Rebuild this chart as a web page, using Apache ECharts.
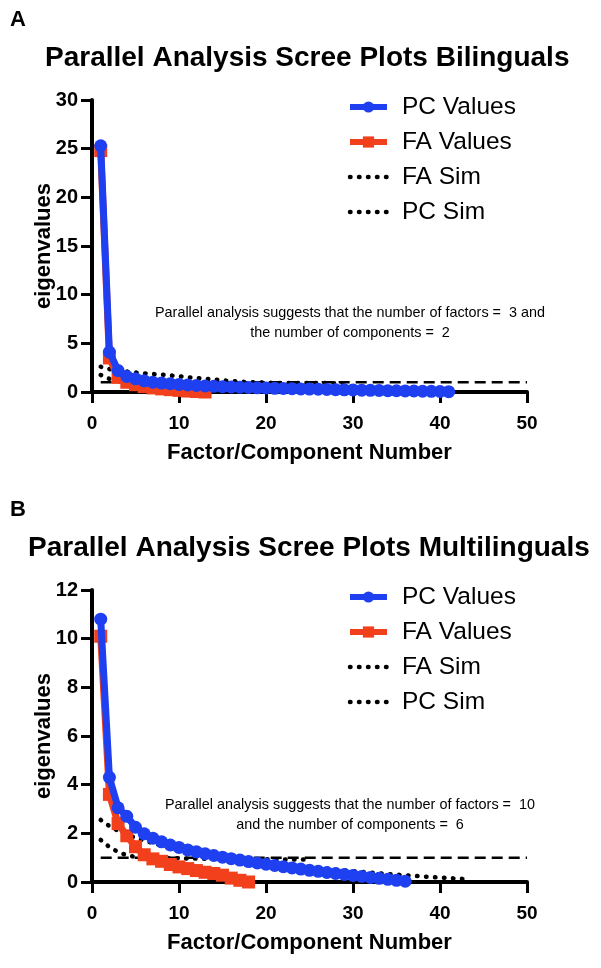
<!DOCTYPE html>
<html><head><meta charset="utf-8">
<script src="https://cdn.jsdelivr.net/npm/echarts@6/dist/echarts.min.js"></script>
<style>html,body{margin:0;padding:0;background:#fff}#c{width:601px;height:968px}</style>
</head><body><div id="c"></div>
<script>
const panelLabels = ['A', 'B'];
const titles = ['Parallel Analysis Scree Plots Bilinguals', 'Parallel Analysis Scree Plots Multilinguals'];
const seriesNames = ['PC Values', 'FA Values', 'FA Sim', 'PC Sim'];
const xAxisName = 'Factor/Component Number';
const yAxisName = 'eigenvalues';
const xTickLabels = [0, 10, 20, 30, 40, 50];
const yTickLabelsA = [0, 5, 10, 15, 20, 25, 30];
const yTickLabelsB = [0, 2, 4, 6, 8, 10, 12];
const notesA = ['Parallel analysis suggests that the number of factors =  3 and', 'the number of components =  2'];
const notesB = ['Parallel analysis suggests that the number of factors =  10', 'and the number of components =  6'];

// Panel A (Bilinguals)
const pcA = [25.3, 4.1, 2.2, 1.6, 1.35, 1.15, 1.0, 0.92, 0.85, 0.78, 0.72, 0.67, 0.62, 0.58, 0.55, 0.52, 0.49, 0.46, 0.43, 0.41,
  0.38, 0.36, 0.34, 0.32, 0.30, 0.28, 0.26, 0.24, 0.22, 0.21, 0.19, 0.17, 0.16, 0.14, 0.13, 0.11, 0.10, 0.08, 0.07, 0.05, 0.03];
const faA = [24.8, 3.5, 1.5, 1.0, 0.75, 0.55, 0.42, 0.32, 0.24, 0.17, 0.10, 0.05, 0.0];
const faSimA = [1.75, 1.35, 1.15, 1.06, 1.02, 1.0, 0.99, 0.99, 0.98, 0.98, 0.97, 0.97, 0.96, 0.96, 0.95, 0.95, 0.95, 0.94, 0.94, 0.94,
  0.93, 0.93, 0.93, 0.92, 0.92, 0.92, 0.91, 0.91, 0.90];
const pcSimA = [2.6, 2.35, 2.2, 2.1, 2.0, 1.92, 1.85, 1.78, 1.7, 1.62, 1.52, 1.44, 1.36, 1.28, 1.2, 1.12, 1.06, 1.02, 0.98, 0.95,
  0.92, 0.88, 0.84, 0.8, 0.76, 0.72, 0.68, 0.64, 0.6, 0.56, 0.52, 0.48, 0.44, 0.41, 0.38, 0.35, 0.32, 0.29, 0.26, 0.23, 0.2, 0.18];

// Panel B (Multilinguals)
const pcB = [10.8, 4.3, 3.05, 2.7, 2.25, 1.98, 1.8, 1.65, 1.52, 1.42, 1.32, 1.24, 1.16, 1.09, 1.02, 0.96, 0.9, 0.84, 0.78, 0.73,
  0.68, 0.63, 0.58, 0.53, 0.48, 0.44, 0.39, 0.35, 0.31, 0.27, 0.23, 0.19, 0.15, 0.11, 0.07, 0.03];
const faB = [10.1, 3.6, 2.4, 1.9, 1.45, 1.12, 0.95, 0.85, 0.72, 0.62, 0.55, 0.47, 0.4, 0.35, 0.28, 0.16, 0.07, 0.0];
const faSimB = [1.73, 1.44, 1.23, 1.1, 1.03, 1.0, 0.99, 0.98, 0.98, 0.97, 0.97, 0.96, 0.96, 0.95, 0.95, 0.95, 0.94, 0.94, 0.94, 0.93,
  0.93, 0.93, 0.92, 0.92, 0.92];
const pcSimB = [2.55, 2.3, 2.1, 1.95, 1.82, 1.7, 1.6, 1.5, 1.42, 1.35, 1.28, 1.21, 1.15, 1.09, 1.04, 0.99, 0.94, 0.9, 0.86, 0.82,
  0.78, 0.74, 0.7, 0.66, 0.62, 0.58, 0.55, 0.51, 0.48, 0.45, 0.42, 0.39, 0.36, 0.33, 0.3, 0.28, 0.25, 0.23, 0.2, 0.18, 0.16, 0.14, 0.12];

const refLevel = 1;        // eigenvalue = 1 reference line
const refSpan = [1, 50];   // x range of the reference line

const FONT = "'Liberation Sans', Arial, Helvetica, sans-serif";
const BLUE = '#1e40f0';
const RED = '#f2401c';

const toXY = arr => arr.map((v, i) => [i + 1, v]);

const panels = [
  { top: 100, ymax: 30, yint: 5, pc: pcA, fa: faA, faSim: faSimA, pcSim: pcSimA, notes: notesA, noteY: 313, titleY: 55, titleX: 40, labelY: 20 },
  { top: 590, ymax: 12, yint: 2, pc: pcB, fa: faB, faSim: faSimB, pcSim: pcSimB, notes: notesB, noteY: 805, titleY: 545, titleX: 23, labelY: 510 }
];

const dotStyle = { color: '#000', width: 4.5, type: [0.5, 8.5], cap: 'round' };

const grid = [], xAxis = [], yAxis = [], series = [], legend = [], title = [], graphic = [];
panels.forEach((p, k) => {
  grid.push({ left: 92, width: 435, top: p.top, height: 292, containLabel: false });
  xAxis.push({
    gridIndex: k, type: 'value', min: xTickLabels[0], max: xTickLabels[xTickLabels.length - 1], interval: 10,
    name: xAxisName, nameLocation: 'middle', nameGap: 50, nameMoveOverlap: false,
    nameTextStyle: { fontFamily: FONT, fontWeight: 'bold', fontSize: 22, color: '#000' },
    axisLine: { onZero: false, lineStyle: { color: '#000', width: 4 } },
    axisTick: { length: 11, lineStyle: { color: '#000', width: 3 } },
    axisLabel: { fontFamily: FONT, fontWeight: 'bold', fontSize: 19, color: '#000', margin: 22 },
    splitLine: { show: false }
  });
  yAxis.push({
    gridIndex: k, type: 'value', min: 0, max: p.ymax, interval: p.yint,
    name: yAxisName, nameLocation: 'middle', nameGap: 37, nameRotate: 90, nameMoveOverlap: false,
    nameTextStyle: { fontFamily: FONT, fontWeight: 'bold', fontSize: 22, color: '#000' },
    axisLine: { show: true, lineStyle: { color: '#000', width: 4 } },
    axisTick: { show: true, length: 11, lineStyle: { color: '#000', width: 3 } },
    axisLabel: { fontFamily: FONT, fontWeight: 'bold', fontSize: 20, color: '#000', margin: 14 },
    splitLine: { show: false }
  });
  series.push({
    name: 'ref', type: 'line', xAxisIndex: k, yAxisIndex: k, silent: true, symbol: 'none',
    data: [[refSpan[0], refLevel], [refSpan[1], refLevel]],
    lineStyle: { color: '#000', width: 2.5, type: [11, 6] }, z: 1
  });
  series.push({
    name: seriesNames[2], type: 'line', xAxisIndex: k, yAxisIndex: k, symbol: 'none', data: toXY(p.faSim),
    lineStyle: dotStyle, itemStyle: { color: '#000' }, z: 2
  });
  series.push({
    name: seriesNames[3], type: 'line', xAxisIndex: k, yAxisIndex: k, symbol: 'none', data: toXY(p.pcSim),
    lineStyle: dotStyle, itemStyle: { color: '#000' }, z: 2
  });
  series.push({
    name: seriesNames[1], type: 'line', xAxisIndex: k, yAxisIndex: k, symbol: 'rect', symbolSize: 13, data: toXY(p.fa),
    lineStyle: { color: RED, width: 7 }, itemStyle: { color: RED }, z: 3
  });
  series.push({
    name: seriesNames[0], type: 'line', xAxisIndex: k, yAxisIndex: k, symbol: 'circle', symbolSize: 13, data: toXY(p.pc),
    lineStyle: { color: BLUE, width: 7 }, itemStyle: { color: BLUE }, z: 4
  });
  legend.push({
    orient: 'vertical', left: 342, top: p.top - 11, itemWidth: 37, itemHeight: 14, itemGap: 9,
    selectedMode: false,
    data: [
      { name: seriesNames[0], lineStyle: { width: 6, color: BLUE } },
      { name: seriesNames[1], lineStyle: { width: 6, color: RED } },
      { name: seriesNames[2], itemStyle: { opacity: 0 }, lineStyle: dotStyle },
      { name: seriesNames[3], itemStyle: { opacity: 0 }, lineStyle: dotStyle }
    ],
    textStyle: { fontFamily: FONT, fontSize: 24.5, color: '#000', lineHeight: 26, padding: [0, 0, 0, 10] }
  });
  title.push({
    text: titles[k], left: p.titleX, top: p.titleY - 16,
    textStyle: { fontFamily: FONT, fontWeight: 'bold', fontSize: 28, color: '#000' }
  });
  graphic.push({
    type: 'text', left: 10, top: p.labelY - 11,
    style: { text: panelLabels[k], font: "bold 22px 'Liberation Sans', Arial, sans-serif", fill: '#000' }
  });
  p.notes.forEach((t, j) => {
    graphic.push({
      type: 'text', x: 350, y: p.noteY + j * 20,
      style: { text: t, font: "14.4px 'Liberation Sans', Arial, sans-serif", fill: '#000', textAlign: 'center', textVerticalAlign: 'middle' }
    });
  });
});

const chart = echarts.init(document.getElementById('c'), null, { renderer: 'canvas' });
chart.setOption({
  animation: false, backgroundColor: '#fff',
  title, legend, grid, xAxis, yAxis, series, graphic
});
</script></body></html>
